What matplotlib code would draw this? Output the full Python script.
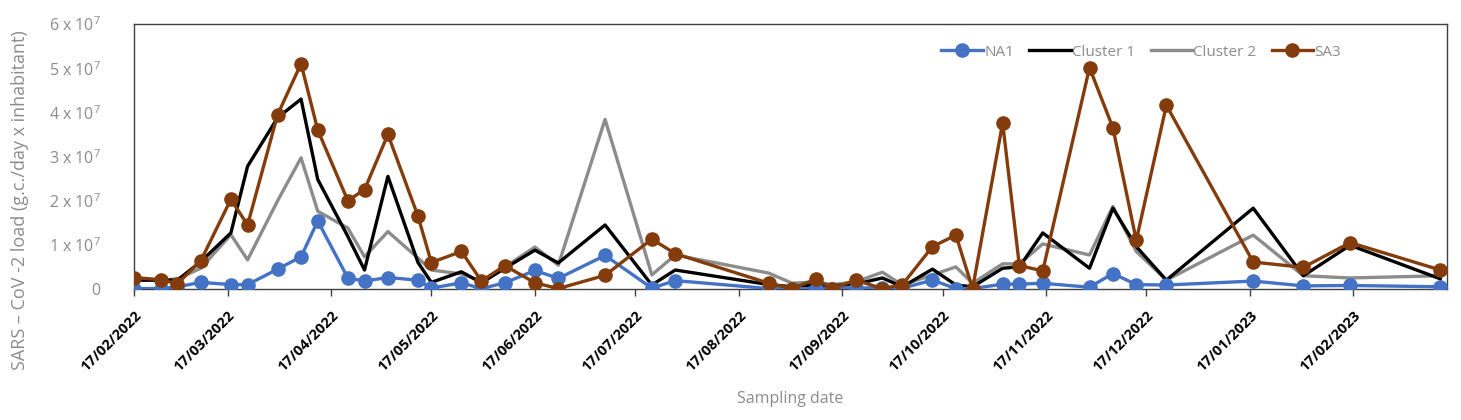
import matplotlib
matplotlib.use("Agg")
import matplotlib.pyplot as plt
import pandas as pd
import numpy as np

dates = ["2022-02-17", "2022-02-25", "2022-03-02", "2022-03-09", "2022-03-18", "2022-03-23",
         "2022-04-01", "2022-04-08", "2022-04-13", "2022-04-22", "2022-04-27", "2022-05-04",
         "2022-05-13", "2022-05-17", "2022-05-26", "2022-06-01", "2022-06-08", "2022-06-17",
         "2022-06-24", "2022-07-08", "2022-07-22", "2022-07-29", "2022-08-26", "2022-09-02",
         "2022-09-09", "2022-09-14", "2022-09-21", "2022-09-29", "2022-10-05", "2022-10-14",
         "2022-10-21", "2022-10-26", "2022-11-04", "2022-11-09", "2022-11-16", "2022-11-30",
         "2022-12-07", "2022-12-14", "2022-12-23", "2023-01-18", "2023-02-02", "2023-02-16",
         "2023-03-15"]

# values in units of 1e6 g.c./day x inhabitant
na1 = [0.1, 0.1, 0.5, 1.5, 1.0, 1.0, 4.5, 7.3, 15.4, 2.5, 1.8, 2.6, 2.0, 0.2, 1.4, 0.1,
       1.4, 4.2, 2.4, 7.6, 0.2, 1.9, 0.1, 0.1, 0.1, 0.1, 0.2, 0.3, 0.2, 2.0, 0.1, 0.1,
       1.1, 1.1, 1.3, 0.4, 3.5, 1.0, 0.9, 1.8, 0.7, 0.8, 0.5]
cluster1 = [2.0, 2.0, 2.0, 6.2, 12.7, 27.8, 38.8, 43.0, 24.8, 11.9, 4.3, 25.5, 6.0, 1.5,
            3.9, 1.4, 4.7, 8.8, 5.9, 14.5, 0.9, 4.3, 1.0, 0.5, 1.0, 0.7, 1.1, 2.5, 0.5, 4.5,
            0.9, 0.5, 4.7, 5.0, 12.7, 4.7, 18.3, 9.6, 2.0, 18.3, 3.0, 9.9, 2.3]
cluster2 = [2.0, 2.0, 2.3, 4.7, 12.3, 6.6, 20.0, 29.7, 17.6, 13.8, 7.3, 13.0, 7.0, 4.3,
            3.4, 1.8, 5.0, 9.5, 5.4, 38.4, 3.2, 7.7, 3.6, 1.3, 1.6, 1.0, 1.6, 3.8, 0.9, 3.2,
            5.0, 1.3, 5.7, 5.7, 10.2, 7.7, 18.7, 8.5, 2.0, 12.2, 3.0, 2.5, 3.0]
sa3 = [2.6, 2.1, 1.2, 6.4, 20.3, 14.5, 39.5, 51.0, 36.0, 20.0, 22.5, 35.0, 16.5, 6.0,
       8.5, 1.8, 5.3, 1.4, 0.1, 3.1, 11.3, 8.0, 1.3, 0.1, 2.2, 0.1, 2.0, 0.1, 1.0, 9.6,
       12.2, 0.1, 37.6, 5.3, 4.1, 50.1, 36.5, 11.0, 41.6, 6.1, 4.9, 10.5, 4.3]

series_names = ["NA1", "Cluster 1", "Cluster 2", "SA3"]
ytick_labels = ["0", "1 x 10$^{7}$", "2 x 10$^{7}$", "3 x 10$^{7}$",
                "4 x 10$^{7}$", "5 x 10$^{7}$", "6 x 10$^{7}$"]
xtick_dates = ["2022-02-17", "2022-03-17", "2022-04-17", "2022-05-17", "2022-06-17",
               "2022-07-17", "2022-08-17", "2022-09-17", "2022-10-17", "2022-11-17",
               "2022-12-17", "2023-01-17", "2023-02-17"]

plt.rcParams['font.family'] = ['Open Sans', 'DejaVu Sans']
plt.rcParams['mathtext.fontset'] = 'custom'
plt.rcParams['mathtext.rm'] = 'Open Sans'
plt.rcParams['mathtext.default'] = 'regular'

x = pd.to_datetime(dates)
scale = 1e6

fig = plt.figure(figsize=(14.61, 4.2), dpi=100)
ax = fig.add_axes([134/1461, 1-289/420, (1447-134)/1461, (289-24)/420])

gray_txt = "#8c8c8c"
blue = "#4472C4"
brown = "#843C0C"
lw = 2.4
ms = 9.5

ax.plot(x, np.array(cluster1)*scale, color="black", lw=lw, label="Cluster 1", zorder=3)
ax.plot(x, np.array(cluster2)*scale, color="#8c8c8c", lw=lw, label="Cluster 2", zorder=2)
ax.plot(x, np.array(na1)*scale, color=blue, lw=lw, marker='o', ms=ms, label="NA1", zorder=4)
ax.plot(x, np.array(sa3)*scale, color=brown, lw=lw, marker='o', ms=ms, label="SA3", zorder=5)

ax.set_ylim(0, 6e7)
ax.set_yticks(np.arange(7)*1e7)
ax.set_yticklabels(ytick_labels)
ax.tick_params(axis='y', length=0, pad=24, labelsize=11.5, labelcolor=gray_txt)

xt = pd.to_datetime(xtick_dates)
ax.set_xlim(pd.Timestamp("2022-02-17"), pd.Timestamp("2023-03-17"))
ax.set_xticks(xt)
ax.set_xticklabels([d.strftime("%d/%m/%Y") for d in xt], rotation=45, ha='right',
                   rotation_mode='anchor', fontweight='bold', fontsize=10.5)
ax.tick_params(axis='x', length=5, width=1, color="#404040", pad=9)

for s in ax.spines.values():
    s.set_color("#404040")
    s.set_linewidth(1.0)

ax.set_ylabel("SARS – CoV -2 load (g.c./day x inhabitant)", color=gray_txt, fontsize=13)
ax.yaxis.set_label_coords(-0.080, 0.336)
ax.set_xlabel("Sampling date", color=gray_txt, fontsize=11.5)
ax.xaxis.set_label_coords((790-134)/1313, -(391-289)/265)

handles, labels = ax.get_legend_handles_labels()
order = [labels.index(n) for n in series_names]
leg = ax.legend([handles[i] for i in order], [labels[i] for i in order], ncol=4,
                frameon=False, loc='center right', bbox_to_anchor=(0.924, 0.894),
                handlelength=2.7, handletextpad=0.1, columnspacing=1.0, fontsize=11,
                labelcolor=gray_txt, borderaxespad=0)

fig.savefig("out.png", dpi=100)
